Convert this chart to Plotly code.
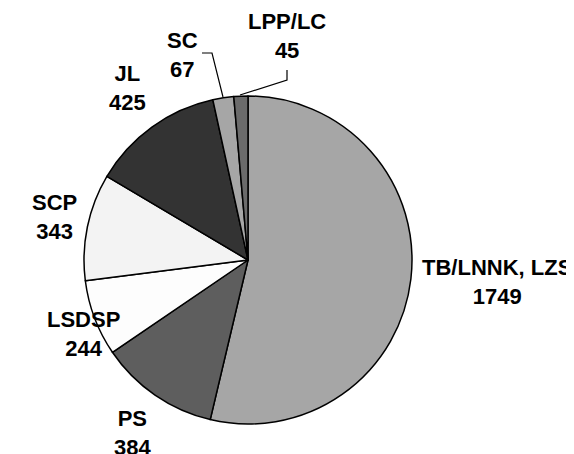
import plotly.graph_objects as go

W, H = 574, 454
OFF = 8  # page body margin offset compensation

# data
parties = ["TB/LNNK, LZS", "PS", "LSDSP", "SCP", "JL", "SC", "LPP/LC"]
votes = [1749, 384, 244, 343, 425, 67, 45]

# styles
colors = ["#a6a6a6", "#5e5e5e", "#fdfdfd", "#f3f3f3", "#333333", "#a6a6a6", "#6b6b6b"]
# label positions in screen pixels (center x, center y)
label_pos = [(497, 282), (133, 433), (83, 334), (55, 217), (127, 88), (182, 55), (287, 36)]

cx, cy, r = 248 - OFF, 260 - OFF, 164


def px(x):
    return (x - OFF) / W


def py(y):
    return 1 - (y - OFF) / H


fig = go.Figure(go.Pie(
    labels=parties,
    values=votes,
    sort=False,
    direction="clockwise",
    rotation=0,
    marker=dict(colors=colors, line=dict(color="#000000", width=1.5)),
    textinfo="none",
    hoverinfo="label+value",
    showlegend=False,
    domain=dict(x=[(cx - r) / W, (cx + r) / W], y=[1 - (cy + r) / H, 1 - (cy - r) / H]),
))

annotations = []
for name, v, (lx, ly) in zip(parties, votes, label_pos):
    annotations.append(dict(
        x=px(lx), y=py(ly), xref="paper", yref="paper",
        text=f"<b>{name}<br>{v}</b>", showarrow=False,
        xanchor="center", yanchor="middle", align="center",
        font=dict(family="Liberation Sans, Arial, sans-serif", size=22, color="#000000"),
    ))


def pth(points):
    return "M " + " L ".join(f"{px(x):.5f},{py(y):.5f}" for x, y in points)


shapes = [
    dict(type="path", xref="paper", yref="paper", path=pth([(202, 53), (212, 53), (223, 97)]),
         line=dict(color="#000000", width=1.2)),
    dict(type="path", xref="paper", yref="paper", path=pth([(287, 70), (287, 80), (240, 95)]),
         line=dict(color="#000000", width=1.2)),
]

fig.update_layout(
    width=W, height=H,
    margin=dict(l=0, r=0, t=0, b=0),
    paper_bgcolor="#ffffff", plot_bgcolor="#ffffff",
    annotations=annotations, shapes=shapes,
)

fig.write_html("out.html")
